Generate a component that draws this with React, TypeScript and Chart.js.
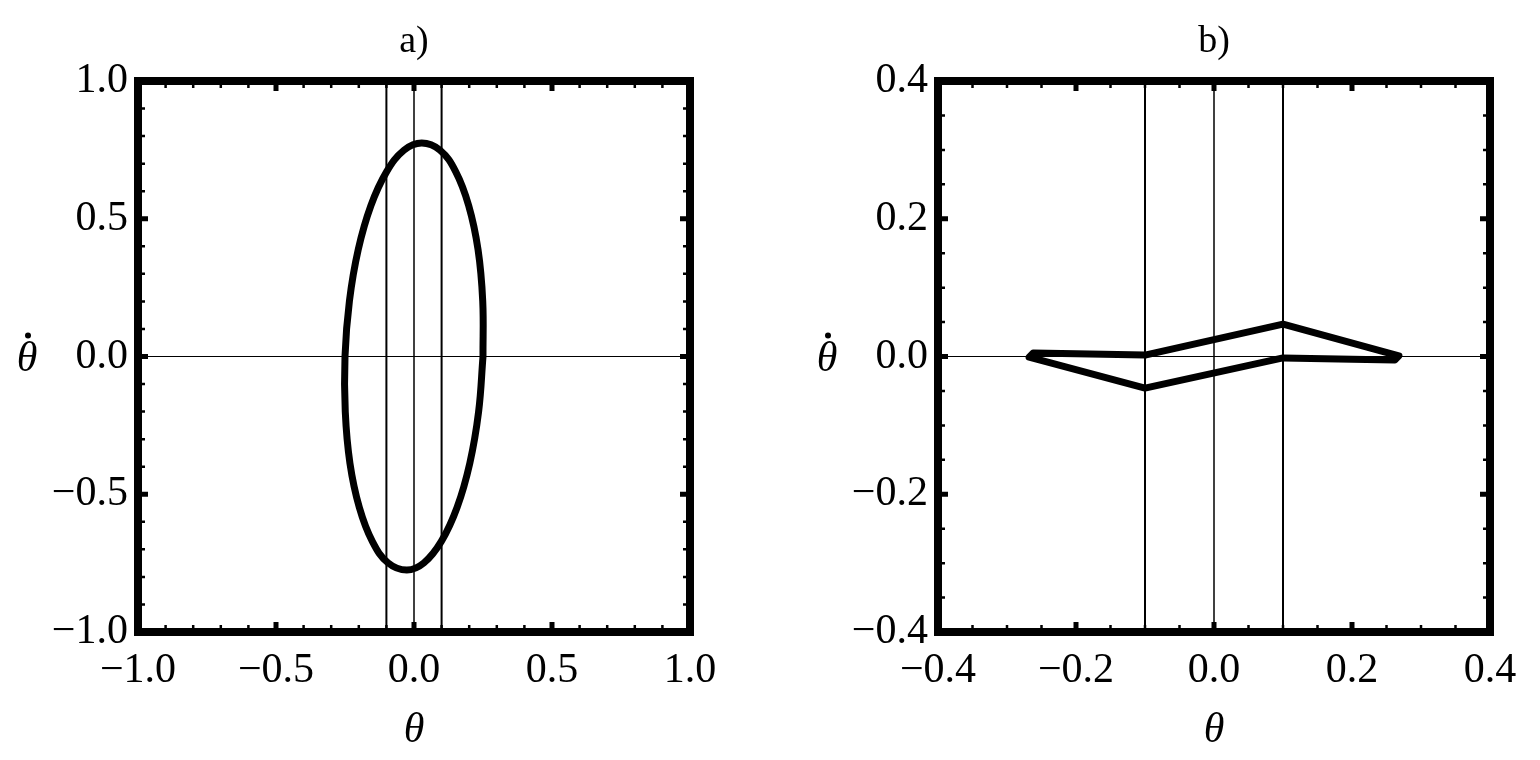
import React, { useEffect, useRef } from "react";
import { Chart, registerables } from "chart.js";

Chart.register(...registerables);

// ---------- text ----------
const titleA = "a)";
const titleB = "b)";
const xAxisTitle = "θ";
const yAxisTitle = "θ"; // drawn with an over-dot (time derivative)

// ---------- panel a: phase orbit (ellipse) ----------
const aOrbitX = [
  0.25, 0.249, 0.232, 0.198, 0.151, 0.094, 0.028, -0.036, -0.099, -0.156, -0.202, -0.234,
  -0.25, -0.249, -0.232, -0.198, -0.151, -0.094, -0.026, 0.036, 0.099, 0.156, 0.202, 0.234, 0.25,
];
const aOrbitY = [
  0, 0.201, 0.388, 0.548, 0.671, 0.749, 0.775, 0.749, 0.671, 0.548, 0.388, 0.201,
  0, -0.201, -0.388, -0.548, -0.671, -0.749, -0.775, -0.749, -0.671, -0.548, -0.388, -0.201, 0,
];
const aGuides = [-0.1, 0, 0.1];
const aRange = [-1, 1];
const aStep = 0.5;
const aMajorTicks = [-1, -0.5, 0, 0.5, 1];
const aMinorTicks = [
  -0.9, -0.8, -0.7, -0.6, -0.4, -0.3, -0.2, -0.1, 0.1, 0.2, 0.3, 0.4, 0.6, 0.7, 0.8, 0.9,
];

// ---------- panel b: stick-slip orbit ----------
const bOrbitX = [-0.1, 0.1, 0.268, 0.262, 0.2, 0.1, -0.1, -0.268, -0.262, -0.2, -0.1];
const bOrbitY = [0.002, 0.047, 0.001, -0.005, -0.004, -0.002, -0.046, -0.001, 0.005, 0.004, 0.002];
const bGuides = [-0.1, 0, 0.1];
const bRange = [-0.4, 0.4];
const bStep = 0.2;
const bMajorTicks = [-0.4, -0.2, 0, 0.2, 0.4];
const bMinorTicks = [-0.35, -0.3, -0.25, -0.15, -0.1, -0.05, 0.05, 0.1, 0.15, 0.25, 0.3, 0.35];

const FONT = '"Liberation Serif", "Times New Roman", serif';

const fmt = (v: number) => {
  const s = Math.abs(v) < 1e-9 ? "0.0" : Number(v).toFixed(1);
  return s.replace("-", "\u2212");
};

const decorPlugin = {
  id: "decor",
  afterDraw(chart: any, _args: any, opts: any) {
    const { ctx, chartArea, scales } = chart;
    const { left, right, top, bottom } = chartArea;
    const xs = scales.x;
    const ys = scales.y;
    ctx.save();
    ctx.strokeStyle = "#000";
    ctx.lineCap = "butt";
    const drawTicks = (vals: number[], len: number, w: number) => {
      ctx.lineWidth = w;
      ctx.beginPath();
      for (const v of vals) {
        const px = xs.getPixelForValue(v);
        ctx.moveTo(px, top);
        ctx.lineTo(px, top + len);
        ctx.moveTo(px, bottom);
        ctx.lineTo(px, bottom - len);
        const py = ys.getPixelForValue(v);
        ctx.moveTo(left, py);
        ctx.lineTo(left + len, py);
        ctx.moveTo(right, py);
        ctx.lineTo(right - len, py);
      }
      ctx.stroke();
    };
    drawTicks(opts.minor, 7, 2.5);
    drawTicks(opts.major, 10, 5);
    ctx.lineWidth = 8;
    ctx.lineJoin = "miter";
    ctx.strokeRect(left, top, right - left, bottom - top);

    ctx.fillStyle = "#000";
    ctx.textAlign = "center";
    ctx.textBaseline = "middle";
    ctx.font = `38px ${FONT}`;
    ctx.fillText(opts.title, (left + right) / 2, 42);
    ctx.font = `italic 42px ${FONT}`;
    ctx.fillText(xAxisTitle, (left + right) / 2, 731);
    const yx = left - 111;
    const yy = (top + bottom) / 2 + 3;
    ctx.fillText(yAxisTitle, yx, yy);
    ctx.beginPath();
    ctx.arc(yx + 1, yy - 24, 3, 0, Math.PI * 2);
    ctx.fill();
    ctx.restore();
  },
};

function pts(xs: number[], ys: number[]) {
  return xs.map((x, i) => ({ x, y: ys[i] }));
}

function makeConfig(p: {
  orbitX: number[];
  orbitY: number[];
  tension: number;
  guides: number[];
  range: number[];
  step: number;
  major: number[];
  minor: number[];
  title: string;
  yWidth: number;
  padRight: number;
}) {
  const [lo, hi] = p.range;
  const datasets: any[] = [
    {
      data: pts(p.orbitX, p.orbitY),
      showLine: true,
      borderColor: "#000",
      borderWidth: 7,
      pointRadius: 0,
      tension: p.tension,
      borderJoinStyle: "round",
      borderCapStyle: "round",
      fill: false,
    },
  ];
  for (const g of p.guides) {
    datasets.push({
      data: [
        { x: g, y: lo },
        { x: g, y: hi },
      ],
      showLine: true,
      borderColor: "#000",
      borderWidth: g === 0 ? 1.5 : 2,
      pointRadius: 0,
    });
  }
  datasets.push({
    data: [
      { x: lo, y: 0 },
      { x: hi, y: 0 },
    ],
    showLine: true,
    borderColor: "#000",
    borderWidth: 1,
    pointRadius: 0,
  });

  const tickFont = { family: FONT, size: 42 };
  return {
    type: "scatter",
    data: { datasets },
    options: {
      animation: false,
      responsive: false,
      devicePixelRatio: 1,
      layout: { padding: { left: 0, right: p.padRight, top: 81, bottom: 68 } },
      plugins: {
        legend: { display: false },
        tooltip: { enabled: false },
        decor: { major: p.major, minor: p.minor, title: p.title },
      },
      scales: {
        x: {
          type: "linear",
          min: lo,
          max: hi,
          ticks: {
            stepSize: p.step,
            callback: (v: any) => fmt(Number(v)),
            font: tickFont,
            color: "#000",
            padding: 14,
            maxRotation: 0,
            autoSkip: false,
          },
          grid: { display: false, drawTicks: false },
          border: { display: false },
          afterFit: (s: any) => {
            s.height = 60;
          },
        },
        y: {
          type: "linear",
          min: lo,
          max: hi,
          ticks: {
            stepSize: p.step,
            callback: (v: any) => fmt(Number(v)),
            font: tickFont,
            color: "#000",
            padding: 10,
            autoSkip: false,
          },
          grid: { display: false, drawTicks: false },
          border: { display: false },
          afterFit: (s: any) => {
            s.width = p.yWidth;
          },
        },
      },
    },
    plugins: [decorPlugin],
  };
}

function Panel(props: { cfg: any; left: number }) {
  const ref = useRef<HTMLCanvasElement | null>(null);
  useEffect(() => {
    if (!ref.current) return;
    const chart = new Chart(ref.current, props.cfg);
    return () => chart.destroy();
  }, []);
  return (
    <canvas
      ref={ref}
      width={770}
      height={760}
      style={{ position: "absolute", left: props.left, top: 0, width: 770, height: 760, display: "block" }}
    />
  );
}

export default function App() {
  const cfgA = makeConfig({
    orbitX: aOrbitX,
    orbitY: aOrbitY,
    tension: 0.4,
    guides: aGuides,
    range: aRange,
    step: aStep,
    major: aMajorTicks,
    minor: aMinorTicks,
    title: titleA,
    yWidth: 138,
    padRight: 80,
  });
  const cfgB = makeConfig({
    orbitX: bOrbitX,
    orbitY: bOrbitY,
    tension: 0,
    guides: bGuides,
    range: bRange,
    step: bStep,
    major: bMajorTicks,
    minor: bMinorTicks,
    title: titleB,
    yWidth: 168,
    padRight: 50,
  });
  return (
    <div
      style={{
        position: "fixed",
        left: 0,
        top: 0,
        width: 1540,
        height: 760,
        background: "#fff",
        overflow: "hidden",
      }}
    >
      <Panel cfg={cfgA} left={0} />
      <Panel cfg={cfgB} left={770} />
    </div>
  );
}
